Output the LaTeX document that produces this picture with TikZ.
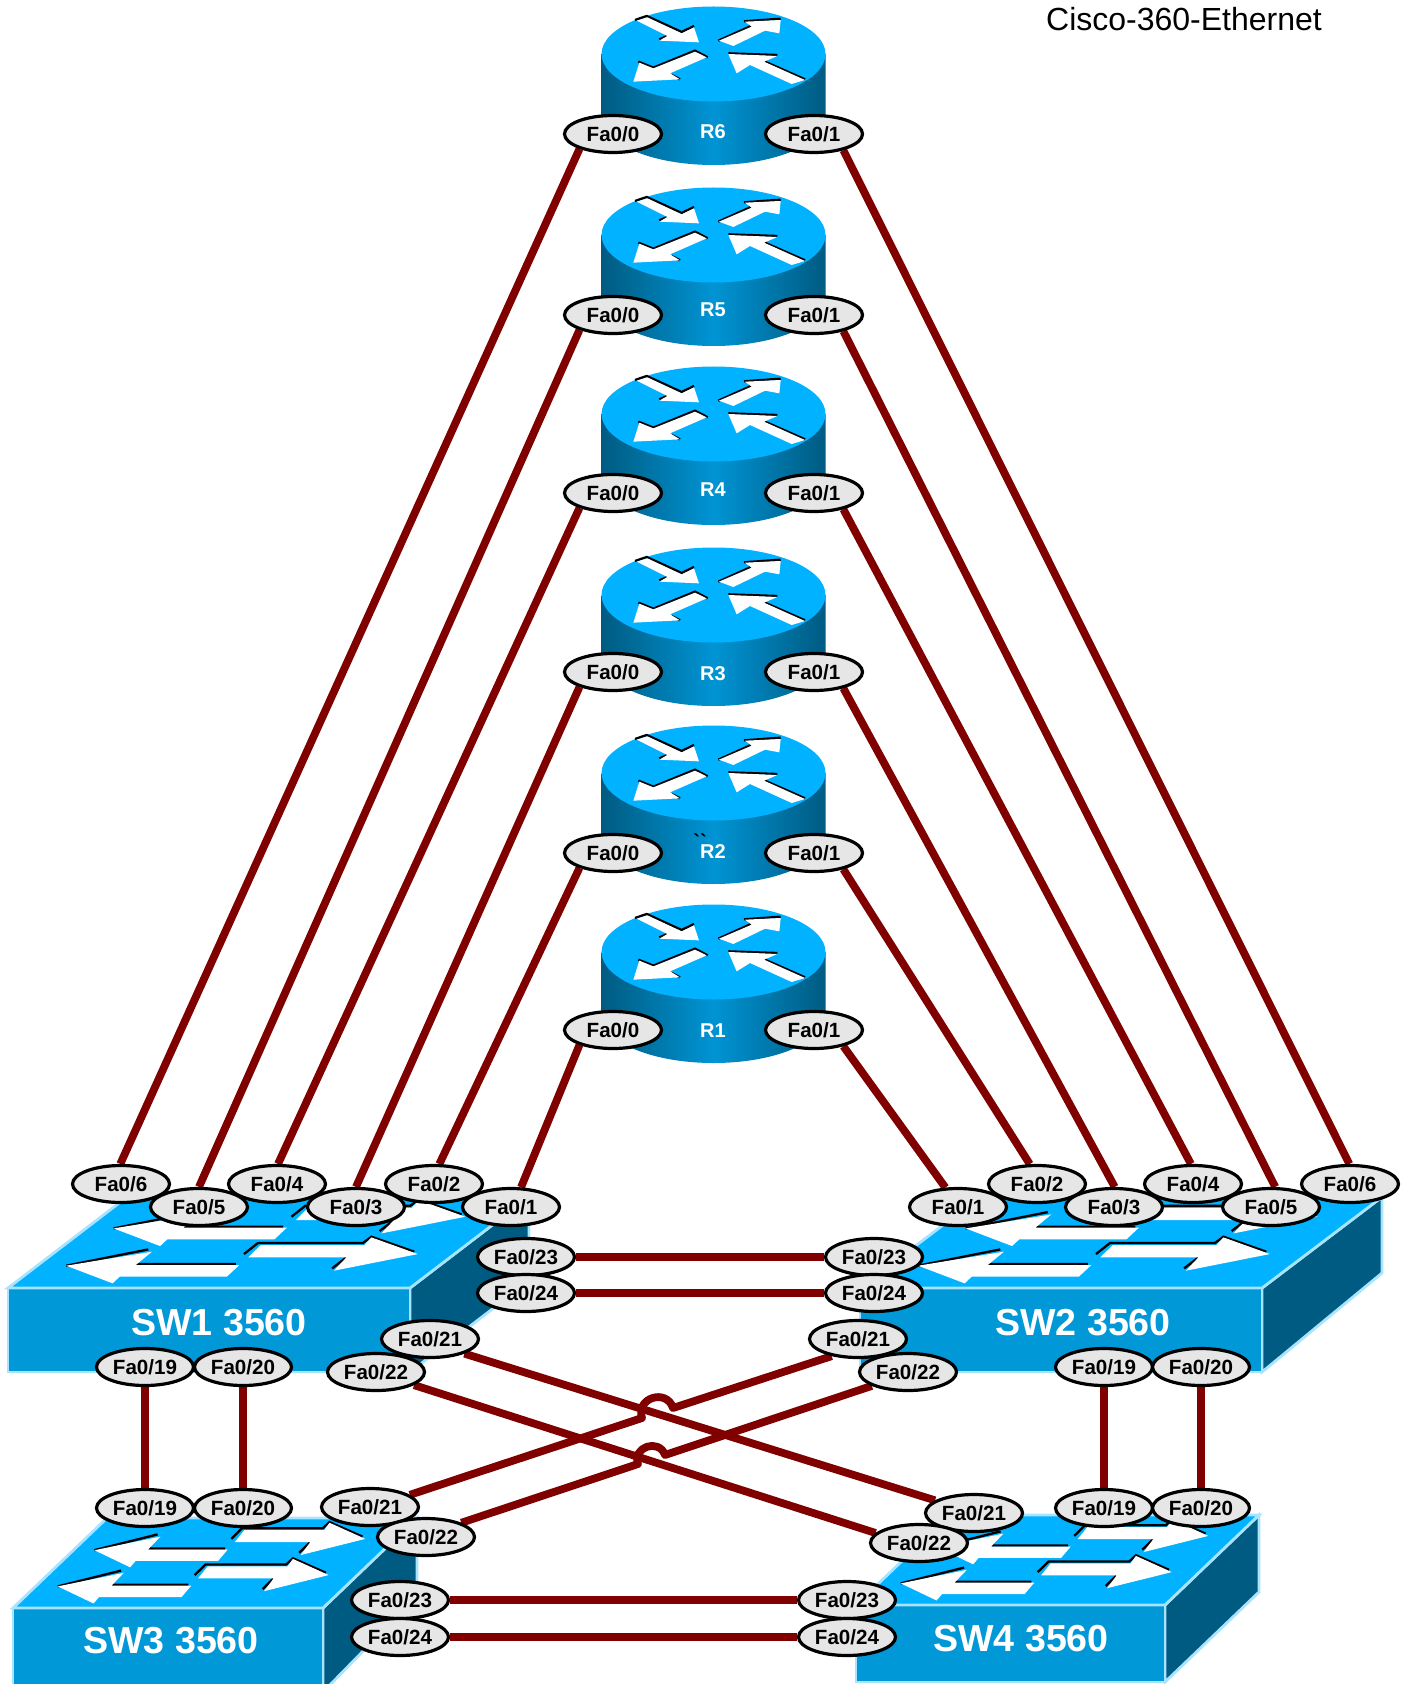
\documentclass[tikz,border=0pt]{standalone}
\usepackage{fontspec}
\setmainfont{Liberation Sans}
\newfontfamily\tickfont{Liberation Sans}
\usetikzlibrary{shapes.geometric,calc}
\pgfdeclarelayer{devices}
\pgfdeclarelayer{links}
\pgfsetlayers{devices,links,main}
\definecolor{topblue}{RGB}{0,178,255}
\definecolor{frontblue}{RGB}{0,152,214}
\definecolor{sideblue}{RGB}{0,91,130}
\definecolor{edgeblue}{RGB}{168,228,255}
\definecolor{linkred}{RGB}{128,0,0}
\definecolor{portgrey}{RGB}{230,230,230}
\definecolor{rmid}{RGB}{0,148,212}
\tikzset{
  port/.style={ellipse,draw=black,fill=portgrey,line width=1.6pt,inner sep=0pt,
    minimum width=48.5pt,minimum height=18.5pt,
    font=\bfseries\fontsize{10.3}{12}\selectfont},
  link/.style={draw=linkred,line width=3.9pt,line join=round},
  swface/.style={draw=edgeblue,line width=1.4pt,line join=miter},
  swlabel/.style={text=white,inner sep=0pt,font=\bfseries\fontsize{#1}{20}\selectfont},
  rlabel/.style={text=white,inner sep=0pt,font=\bfseries\fontsize{10}{12}\selectfont},
  arrowedge/.style={draw=black,line width=1.15pt,line join=miter},
}
% four-arrow symbol on top of a switch
\newcommand{\swpair}{%
  \draw[arrowedge] (163,-67)--(393,-116) (358,-72)--(638,-72)
     (661,-102)--(700,-135)--(994,-135)--(1018,-154)--(1138,-109) (908,-59)--(948,-92);
  \fill[white] (163,-67)--(403,-109)--(358,-69)--(648,-69)--(613,-34)--(313,-34)--(293,-14)--cycle;
  \fill[white] (673,-92)--(708,-129)--(998,-129)--(1018,-152)--(1148,-102)--(913,-52)--(948,-92)--cycle;
}
% #1 front left x, #2 front right x, #3 front top y, #4 front bottom y, #5 back dx, #6 back dy, #7 side lower dy, #8 xscale, #9 yscale
\newcommand{\switchbody}[9]{%
  \fill[sideblue] (#2,#3)--({#2+#5},{#3-#6})--({#2+#5},{#4-#7})--(#2,#4)--cycle;
  \draw[swface,fill=sideblue] (#2,#3)--({#2+#5},{#3-#6})--({#2+#5},{#4-#7})--(#2,#4)--cycle;
  \draw[swface,fill=frontblue] (#1,#3) rectangle (#2,#4);
  \draw[swface,fill=topblue] (#1,#3)--(#2,#3)--({#2+#5},{#3-#6})--({#1+#5},{#3-#6})--cycle;
  \begin{scope}[shift={(#1,#3)},xscale=#8,yscale=#9]
    \begin{scope}[shift={(133,-112)}]\swpair\end{scope}
    \swpair
  \end{scope}
}
% #1 top y of the router
\newcommand{\routerbody}[1]{%
  \shade[left color=sideblue,right color=sideblue,middle color=rmid]
    (601.5,{#1+47}) -- (601.5,{#1+110.5}) arc[start angle=180,end angle=360,x radius=56pt,y radius=23.75pt]
    -- (825.5,{#1+47}) -- cycle;
  \fill[topblue] (713.5,{#1+47}) ellipse [x radius=56pt,y radius=23.75pt];
  \begin{scope}[shift={(540,{#1-7})},scale=1/3]
    \draw[arrowedge] (285,60)--(320,48)--(425,96)--(462,78) (358,118)--(382,108)
      (535,122)--(635,77) (612,64)--(722,56)
      (295,185)--(340,203)--(465,152)--(503,172) (395,225)--(420,238)
      (565,160)--(712,165) (675,185)--(795,238);
    \fill[white] (290,62)--(322,52)--(425,100)--(462,82)--(477,127)--(358,122)--(382,108)--cycle;
    \fill[white] (537,122)--(635,80)--(615,65)--(722,60)--(718,100)--(675,92)--(580,138)--cycle;
    \fill[white] (280,245)--(298,188)--(340,205)--(465,155)--(500,172)--(390,220)--(420,238)--cycle;
    \fill[white] (565,162)--(712,168)--(672,185)--(795,240)--(755,252)--(630,195)--(590,220)--cycle;
  \end{scope}
}
\begin{document}
\begin{tikzpicture}[x=0.5pt,y=-0.5pt]
\useasboundingbox (0,0) rectangle (1408,1684);
\begin{pgfonlayer}{devices}
  \fill[white] (0,0) rectangle (1408,1684);
  \routerbody{7}\routerbody{188}\routerbody{367}\routerbody{548}\routerbody{726}\routerbody{905}
  \switchbody{8}{410}{1288}{1372}{119}{91}{91}{0.357}{0.333}
  \switchbody{860}{1262}{1288}{1372}{120}{91}{99}{0.357}{0.333}
  \switchbody{13}{323}{1608}{1692}{94}{90}{96}{0.275}{0.323}
  \switchbody{856}{1165}{1605}{1682}{94}{90}{90}{0.275}{0.323}
\end{pgfonlayer}

\node[inner sep=0pt,font=\fontsize{16}{18}\selectfont] (title) at (1184,19) {Cisco-360-Ethernet};

% router labels
\node[rlabel] (R6) at (713,132) {R6};
\node[rlabel] (R5) at (713,310) {R5};
\node[rlabel] (R4) at (713,490) {R4};
\node[rlabel] (R3) at (713,674) {R3};
\node[rlabel] (R2) at (713,852) {R2};
\node[rlabel] (R1) at (713,1031) {R1};
\node[inner sep=0pt,font=\fontsize{10}{12}\selectfont] (R2ticks) at (700,841) {\tickfont\bfseries ``};

% switch labels
\node[swlabel=18.8] (SW1) at (219,1323) {SW1 3560};
\node[swlabel=18.8] (SW2) at (1083,1323) {SW2 3560};
\node[swlabel=18.8] (SW3) at (171,1641) {SW3 3560};
\node[swlabel=18.8] (SW4) at (1021,1639) {SW4 3560};

% router ports
\foreach \r/\y in {6/134,5/315,4/493,3/672,2/853,1/1030}{
  \node[port] (r\r p0) at (613,\y) {Fa0/0};
  \node[port] (r\r p1) at (814,\y) {Fa0/1};
}

% SW1 ports
\node[port] (a6) at (121,1184) {Fa0/6};
\node[port] (a4) at (277,1184) {Fa0/4};
\node[port] (a2) at (434,1184) {Fa0/2};
\node[port] (a5) at (199,1207) {Fa0/5};
\node[port] (a3) at (356,1207) {Fa0/3};
\node[port] (a1) at (511,1207) {Fa0/1};
\node[port] (a23) at (526,1257) {Fa0/23};
\node[port] (a24) at (526,1293) {Fa0/24};
\node[port] (a21) at (430,1339) {Fa0/21};
\node[port] (a22) at (376,1372) {Fa0/22};
\node[port] (a19) at (145,1367) {Fa0/19};
\node[port] (a20) at (243,1367) {Fa0/20};

% SW2 ports
\node[port] (b2) at (1037,1184) {Fa0/2};
\node[port] (b4) at (1193,1184) {Fa0/4};
\node[port] (b6) at (1350,1184) {Fa0/6};
\node[port] (b1) at (958,1207) {Fa0/1};
\node[port] (b3) at (1114,1207) {Fa0/3};
\node[port] (b5) at (1271,1207) {Fa0/5};
\node[port] (b23) at (874,1257) {Fa0/23};
\node[port] (b24) at (874,1293) {Fa0/24};
\node[port] (b21) at (858,1339) {Fa0/21};
\node[port] (b22) at (908,1372) {Fa0/22};
\node[port] (b19) at (1104,1367) {Fa0/19};
\node[port] (b20) at (1201,1367) {Fa0/20};

% SW3 ports
\node[port] (c19) at (145,1508) {Fa0/19};
\node[port] (c20) at (243,1508) {Fa0/20};
\node[port] (c21) at (370,1507) {Fa0/21};
\node[port] (c22) at (426,1537) {Fa0/22};
\node[port] (c23) at (400,1600) {Fa0/23};
\node[port] (c24) at (400,1637) {Fa0/24};

% SW4 ports
\node[port] (d19) at (1104,1508) {Fa0/19};
\node[port] (d20) at (1201,1508) {Fa0/20};
\node[port] (d21) at (974,1513) {Fa0/21};
\node[port] (d22) at (919,1543) {Fa0/22};
\node[port] (d23) at (847,1600) {Fa0/23};
\node[port] (d24) at (847,1637) {Fa0/24};

% hop points
\coordinate (h1a) at (642,1418);
\coordinate (h1b) at (673,1408);
\coordinate (h1c) at (635.4,1398);
\coordinate (h1d) at (666.4,1388);
\coordinate (h2a) at (638,1464);
\coordinate (h2b) at (665,1455);
\coordinate (h2c) at (632,1447);
\coordinate (h2d) at (659,1438);

\begin{pgfonlayer}{links}
  % routers to SW1
  \draw[link] (r6p0.204) -- (a6.92);
  \draw[link] (r5p0.204) -- (a5.90);
  \draw[link] (r4p0.204) -- (a4.87);
  \draw[link] (r3p0.204) -- (a3.90);
  \draw[link] (r2p0.204) -- (a2.75);
  \draw[link] (r1p0.204) -- (a1.63);
  % routers to SW2
  \draw[link] (r6p1.331) -- (b6.92);
  \draw[link] (r5p1.331) -- (b5.78);
  \draw[link] (r4p1.331) -- (b4.96);
  \draw[link] (r3p1.331) -- (b3.88);
  \draw[link] (r2p1.331) -- (b2.110);
  \draw[link] (r1p1.331) -- (b1.123);
  % trunks
  \draw[link] (a23) -- (b23);
  \draw[link] (a24) -- (b24);
  \draw[link] (c23) -- (d23);
  \draw[link] (c24) -- (d24);
  \draw[link] (a19) -- (c19);
  \draw[link] (a20) -- (c20);
  \draw[link] (b19) -- (d19);
  \draw[link] (b20) -- (d20);
  % crossing links
  \draw[link] (a21.337) -- (d21.162);
  \draw[link] (a22.341) -- (d22.167);
  \draw[link] (c21.17) -- (h1a) .. controls (h1c) and (h1d) .. (h1b) -- (b21.213);
  \draw[link] (c22.22) -- (h2a) .. controls (h2c) and (h2d) .. (h2b) -- (b22.201);
\end{pgfonlayer}
\end{tikzpicture}
\end{document}
